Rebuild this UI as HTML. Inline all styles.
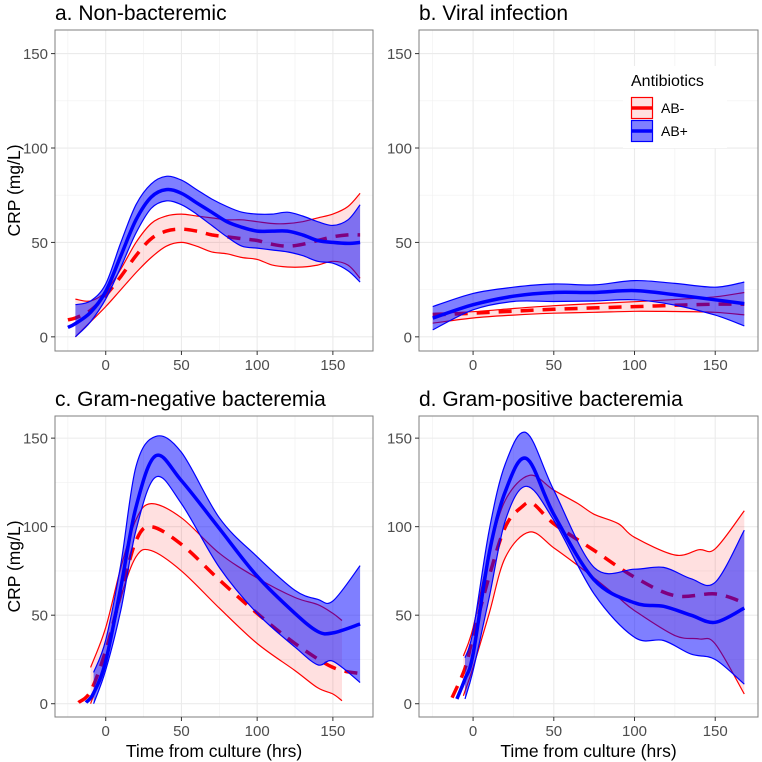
<!DOCTYPE html>
<html><head><meta charset="utf-8">
<style>
body{margin:0;background:#fff;}
svg{display:block;font-family:"Liberation Sans",Arial,sans-serif;}
</style></head>
<body>
<svg id="chart" width="762" height="762" viewBox="0 0 762 762"></svg>
<script>
// ---- data (CRP mg/L vs hours from culture) ----
const panelTitles = ["a. Non-bacteremic","b. Viral infection","c. Gram-negative bacteremia","d. Gram-positive bacteremia"];
const xTicks = [0,50,100,150];
const yTicks = [0,50,100,150];
// panel a
const aNegX   = [-25,-20,-10,0,10,20,30,40,50,60,70,80,90,100,110,120,130,140,150,160,168];
const aNegMean= [9,10,14,22,32,43,52,56,57,56,54,53,52,51,49,48,49,51,53,54,54];
const aNegHi  = [null,20,19,24,36,50,60,64,65,64,63,62,62,61,60,60,61,63,65,69,76];
const aNegLo  = [null,0,8,16,25,34,42,48,50,48,45,44,42,41,38,37,37,38,40,38,31];
const aPosX   = [-25,-20,-10,0,10,20,30,40,50,60,70,80,90,100,110,120,130,140,150,160,168];
const aPosMean= [5,7,13,24,43,62,74,78,76,71,66,61,58,56,56,56,54,51,50,49.5,50];
const aPosHi  = [null,17,19,28,50,70,81,85,83,78,73,69,66,65,65,66,64,61,59,62,70];
const aPosLo  = [null,0,8,20,37,55,68,72,70,65,59,53,48,47,46,45,43,40,39,35,29];
// panel b
const bX      = [-25,0,25,50,75,100,125,150,168];
const bNegMean= [11.6,12.5,13.6,14.6,15.3,16,16.7,17.3,17.3];
const bNegHi  = [12.5,13.3,15,16.5,17.6,18.6,19.8,21.2,23.5];
const bNegLo  = [7.2,10,11.5,12.5,13,13.5,13.4,13,11.6];
const bPosMean= [9.9,17,21.5,23.5,23.5,24.5,22.3,19.6,17.6];
const bPosHi  = [16,23,26.3,28,27.5,29.8,28.3,26.3,29];
const bPosLo  = [3.7,14.3,18.7,18.7,19,19.6,16.8,11.5,5.8];
// panel c
const cNegX   = [-18,-10,0,10,20,30,50,75,100,125,150,168];
const cNegMean= [0.7,7,30,62,92,100,90,70,51,34,20.5,17];
const cNegBX  = [-10,0,10,20,30,50,75,100,125,140,150,156];
const cNegHi  = [20.5,43,77,104,113,105,85,71,60,56,51,47];
const cNegLo  = [0,24,60,83,86.5,75,54,34,18.7,9,5.5,1.7];
const cPosX   = [-13,-8,0,10,20,33,50,75,100,125,140,150,168];
const cPosMean= [0.7,6,24,66,111,140,126,99,72,51,40.8,40,45];
const cPosHi  = [null,17.7,36,79,134,151,142,105,83,64,59,58,78];
const cPosLo  = [null,0,19,53,98,128,113,77,51,32,22,24,12];
// panel d
const dNegX   = [-13,-5,0,10,20,30,37,50,75,100,125,150,168];
const dNegMean= [3.4,20,38,72,100,111,113,101.7,86.6,71.5,61,62,57];
const dNegBX  = [-6,0,10,20,35,50,65,75,90,100,125,140,150,168];
const dNegHi  = [27,43,85,115,129,120.6,113,107,101.7,94,84,87,87.5,109];
const dNegLo  = [4.5,20.5,51,82.7,97,88,78,71,60,52.6,38.5,36.6,33.8,5.5];
const dPosX   = [-10,-5,0,10,20,33,50,75,100,118,135,150,168];
const dPosMean= [2.7,14,28,85,120,138.5,107,70,57,55,50,46,54];
const dPosHi  = [null,26,41,98,135.6,153,120.6,77,76,77,70.6,68.6,98];
const dPosLo  = [null,2.7,18.7,60,103.6,122.8,103.6,62,37.5,35.7,28,25,11];

const panels = [
 {box:[55,30,373,351], negX:aNegX,negM:aNegMean,negBX:aNegX,negH:aNegHi,negL:aNegLo,posX:aPosX,posM:aPosMean,posH:aPosHi,posL:aPosLo},
 {box:[419,30,758,351], negX:bX,negM:bNegMean,negBX:bX,negH:bNegHi,negL:bNegLo,posX:bX,posM:bPosMean,posH:bPosHi,posL:bPosLo},
 {box:[55,416,373,717], negX:cNegX,negM:cNegMean,negBX:cNegBX,negH:cNegHi,negL:cNegLo,posX:cPosX,posM:cPosMean,posH:cPosHi,posL:cPosLo},
 {box:[419,416,758,717], negX:dNegX,negM:dNegMean,negBX:dNegBX,negH:dNegHi,negL:dNegLo,posX:dPosX,posM:dPosMean,posH:dPosHi,posL:dPosLo}
];
const X0=-33.5, X1=176.5, Y0=-7.5, Y1=162.5;
const NS="http://www.w3.org/2000/svg";
const svg=document.getElementById('chart');
function mk(tag,attrs,parent){const e=document.createElementNS(NS,tag);for(const k in attrs)e.setAttribute(k,attrs[k]);(parent||svg).appendChild(e);return e;}
function pts(xs,ys,sx,sy){const p=[];for(let i=0;i<xs.length;i++){if(ys[i]==null)continue;p.push([sx(xs[i]),sy(ys[i])]);}return p;}
function smooth(p){ // catmull-rom
 if(p.length<2)return "";let d="M"+p[0][0].toFixed(1)+","+p[0][1].toFixed(1);
 for(let i=0;i<p.length-1;i++){const p0=p[i-1]||p[i],p1=p[i],p2=p[i+1],p3=p[i+2]||p2;
  const c1=[p1[0]+(p2[0]-p0[0])/6,p1[1]+(p2[1]-p0[1])/6],c2=[p2[0]-(p3[0]-p1[0])/6,p2[1]-(p3[1]-p1[1])/6];
  d+="C"+c1[0].toFixed(1)+","+c1[1].toFixed(1)+" "+c2[0].toFixed(1)+","+c2[1].toFixed(1)+" "+p2[0].toFixed(1)+","+p2[1].toFixed(1);}
 return d;}
function ribbon(xs,hi,lo,sx,sy){const ph=pts(xs,hi,sx,sy),pl=pts(xs,lo,sx,sy).reverse();
 let d=smooth(ph);const dl=smooth(pl);d+="L"+dl.slice(1)+"Z";return d;}

panels.forEach((P,pi)=>{
 const [l,t,r,b]=P.box;
 const sx=v=>l+(v-X0)/(X1-X0)*(r-l), sy=v=>b-(v-Y0)/(Y1-Y0)*(b-t);
 const g=mk('g',{});
 
 
 mk('rect',{x:l,y:t,width:r-l,height:b-t,fill:'#fff'},g);
 const minors=[-25,25,75,125];
 minors.forEach(v=>mk('line',{x1:sx(v),x2:sx(v),y1:t,y2:b,stroke:'#f0f0f0','stroke-width':0.6},g));
 [25,75,125].forEach(v=>mk('line',{x1:l,x2:r,y1:sy(v),y2:sy(v),stroke:'#f0f0f0','stroke-width':0.6},g));
 xTicks.forEach(v=>mk('line',{x1:sx(v),x2:sx(v),y1:t,y2:b,stroke:'#ebebeb','stroke-width':1.1},g));
 yTicks.forEach(v=>mk('line',{x1:l,x2:r,y1:sy(v),y2:sy(v),stroke:'#ebebeb','stroke-width':1.1},g));
 const clipId='clip'+pi;const cp=mk('clipPath',{id:clipId},g);mk('rect',{x:l,y:t,width:r-l,height:b-t},cp);
 const data=mk('g',{'clip-path':'url(#'+clipId+')'},g);
 const rr=mk('path',{d:ribbon(P.negBX,P.negH,P.negL,sx,sy),fill:'#ff0000','fill-opacity':0.12,stroke:'none'},data);
 
 
 const rh=mk('path',{d:smooth(pts(P.negBX,P.negH,sx,sy)),fill:'none',stroke:'#ff0000','stroke-width':1.2},data);
 
 
 const rl=mk('path',{d:smooth(pts(P.negBX,P.negL,sx,sy)),fill:'none',stroke:'#ff0000','stroke-width':1.2},data);
 
 
 const rm=mk('path',{d:smooth(pts(P.negX,P.negM,sx,sy)),fill:'none',stroke:'#ff0000','stroke-width':3.5,'stroke-dasharray':'13,9'},data);
 
 
 const br=mk('path',{d:ribbon(P.posX,P.posH,P.posL,sx,sy),fill:'#0000ff','fill-opacity':0.5,stroke:'none'},data);
 
 
 const bh=mk('path',{d:smooth(pts(P.posX,P.posH,sx,sy)),fill:'none',stroke:'#0000ff','stroke-width':1.2},data);
 
 
 const bl=mk('path',{d:smooth(pts(P.posX,P.posL,sx,sy)),fill:'none',stroke:'#0000ff','stroke-width':1.2},data);
 
 
 const bm=mk('path',{d:smooth(pts(P.posX,P.posM,sx,sy)),fill:'none',stroke:'#0000ff','stroke-width':3.5},data);
 
 
 mk('rect',{x:l,y:t,width:r-l,height:b-t,fill:'none',stroke:'#7f7f7f','stroke-width':1},g);
 xTicks.forEach(v=>{mk('line',{x1:sx(v),x2:sx(v),y1:b,y2:b+4,stroke:'#333','stroke-width':1},g);
  const tx=mk('text',{x:sx(v),y:b+19,'text-anchor':'middle','font-size':15,fill:'#4d4d4d'},g);tx.textContent=v;
  
  });
 yTicks.forEach(v=>{mk('line',{x1:l-4,x2:l,y1:sy(v),y2:sy(v),stroke:'#333','stroke-width':1},g);
  const ty=mk('text',{x:l-7,y:sy(v)+5.5,'text-anchor':'end','font-size':15,fill:'#4d4d4d'},g);ty.textContent=v;
  
  });
 const tt=mk('text',{x:l,y:t-10,'font-size':21,fill:'#000'},g);tt.textContent=panelTitles[pi];
 
 
 if(pi%2==0){const yt=mk('text',{x:0,y:0,transform:'translate(20,'+((t+b)/2)+') rotate(-90)','text-anchor':'middle','font-size':17.5,fill:'#000'},g);yt.textContent='CRP (mg/L)';
  
  }
 if(pi>=2){const xt=mk('text',{x:(l+r)/2,y:b+40,'text-anchor':'middle','font-size':17.5,fill:'#000'},g);xt.textContent='Time from culture (hrs)';
  
  }
});
const lg=mk('g',{});


mk('rect',{x:623,y:66,width:104,height:82,fill:'#fff'},lg);
const lt=mk('text',{x:631,y:86,'font-size':16,fill:'#000'},lg);lt.textContent='Antibiotics';
[['AB-','#ff0000',0.12,97],['AB+','#0000ff',0.5,120]].forEach(([lab,c,op,y])=>{
 const e=mk('g',{},lg);
 
 
 mk('rect',{x:631.5,y:y+0.5,width:21,height:21,fill:c,'fill-opacity':op,stroke:c,'stroke-width':1.2},e);
 mk('line',{x1:632,x2:652,y1:y+11,y2:y+11,stroke:c,'stroke-width':3.5},e);
 const tx=mk('text',{x:661,y:y+16,'font-size':14,fill:'#000'},e);tx.textContent=lab;
});
</script>
</body></html>
